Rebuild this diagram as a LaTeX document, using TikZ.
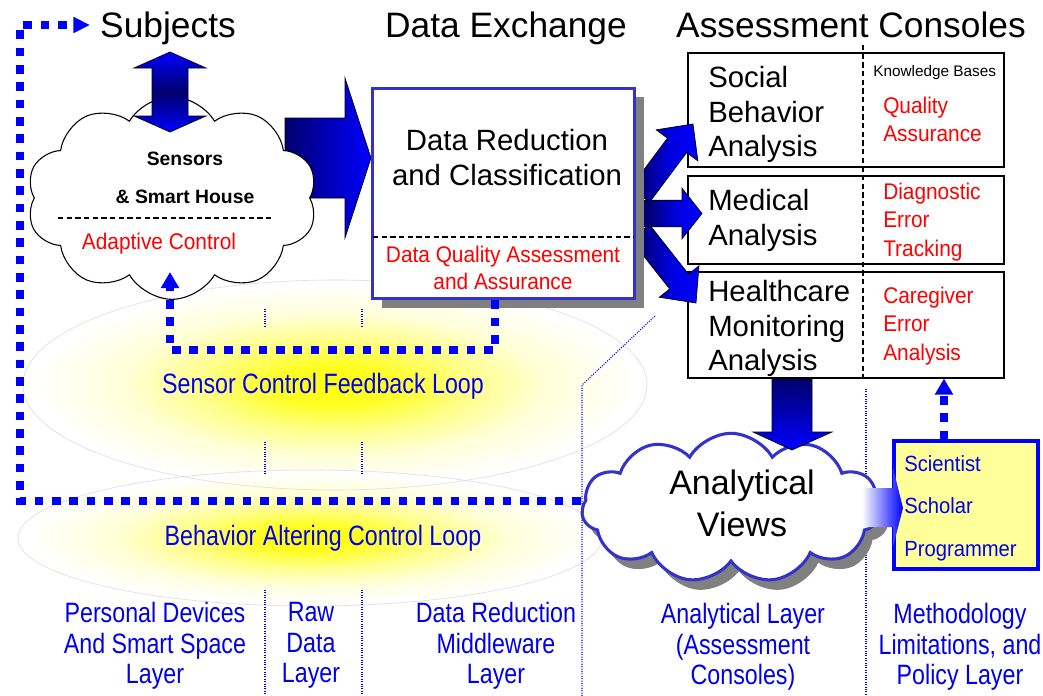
\documentclass[tikz,border=0pt]{standalone}
\usepackage{fontspec}
\setmainfont{Liberation Sans}
\newfontfamily\narrowA{Liberation Sans}[FakeStretch=0.83]
\newfontfamily\narrowB{Liberation Sans}[FakeStretch=0.92]
\usetikzlibrary{shapes.symbols,shadows,calc,arrows.meta}
\definecolor{boxblue}{RGB}{51,51,204}
\definecolor{navyd}{RGB}{0,0,110}
\definecolor{labelblue}{RGB}{0,0,235}
\definecolor{shadowgray}{RGB}{128,128,128}
\definecolor{lightyellow}{RGB}{255,255,153}
\pgfdeclareradialshading{glow}{\pgfpoint{0bp}{0bp}}{color(0bp)=(yellow); color(5bp)=(yellow!85!white); color(11bp)=(yellow!45!white); color(17bp)=(yellow!15!white); color(24bp)=(white); color(50bp)=(white)}
\pgfdeclarehorizontalshading{fanshade}{100bp}{color(0bp)=(navyd); color(30bp)=(navyd); color(55bp)=(blue!80!navyd); color(75bp)=(blue); color(100bp)=(blue)}
\newcommand\fatarrow[6]{%
  \coordinate (fa) at #1; \coordinate (fb) at #2;
  \coordinate (fh) at ($(fb)!#5!(fa)$);
  \draw[#6] ($(fa)!#3!90:(fb)$) -- ($(fh)!#3!90:(fb)$) -- ($(fh)!#4!90:(fb)$) -- (fb)
    -- ($(fh)!#4!-90:(fb)$) -- ($(fh)!#3!-90:(fb)$) -- ($(fa)!#3!-90:(fb)$) -- cycle;}
\tikzset{
 headtxt/.style={font=\fontsize{26.5pt}{30pt}\selectfont, inner sep=0pt, anchor=base},
 bigtxt/.style={font=\fontsize{22pt}{26pt}\selectfont, inner sep=0pt, align=left, anchor=north west},
 redtxt/.style={text=red, font=\narrowB\fontsize{17pt}{21.2pt}\selectfont, inner sep=0pt, align=left, anchor=north west},
 layertxt/.style={text=labelblue, font=\narrowA\fontsize{21pt}{23pt}\selectfont, inner sep=0pt, align=center, anchor=north},
 loopline/.style={draw=blue, line width=6.5pt, dash pattern=on 6.5pt off 6.5pt},
 sepline/.style={draw=blue, line width=0.8pt, densely dotted},
 fat/.style={draw=black, line width=0.5pt, left color=navyd, right color=blue},
 fan/.style={draw=black, line width=0.5pt, shade, shading=fanshade},
 halfdash/.style={draw=black, line width=1.1pt, dash pattern=on 4pt off 2.5pt},
 console/.style={draw=black, line width=0.8pt, fill=white, minimum width=237pt, inner sep=0pt},
 glowfill/.style={shade, shading=glow},
 glowrim/.style={draw=gray!25, line width=0.5pt},
}
\begin{document}
\begin{tikzpicture}[x=0.75pt,y=-0.75pt]
\useasboundingbox (0,0) rectangle (1043,696);
\fill[white] (0,0) rectangle (1043,696);

% glowing loop ellipses
\begin{scope}[transform canvas={shift={(335,385)}, yscale=0.3365}]
  \path[glowfill] (0,0) circle [radius=234pt];
\end{scope}
\begin{scope}[transform canvas={shift={(310,538)}, yscale=0.233}]
  \path[glowfill] (0,0) circle [radius=219pt];
\end{scope}
\path[glowrim] (335,385) ellipse [x radius=234pt, y radius=78.75pt];
\path[glowrim] (310,538) ellipse [x radius=219pt, y radius=51pt];

% layer separators
\draw[sepline] (265,309) -- (265,326);
\draw[sepline] (265,442) -- (265,475);
\draw[sepline] (265,590) -- (265,696);
\draw[sepline] (362,309) -- (362,326);
\draw[sepline] (362,442) -- (362,475);
\draw[sepline] (362,590) -- (362,696);
\draw[sepline] (655,316) -- (582,385) -- (582,696);
\draw[sepline] (866,389) -- (866,696);

% titles
\node[headtxt] (subj) at (168,37) {Subjects};
\node[headtxt] (dex) at (506,37) {Data Exchange};
\node[headtxt] (acon) at (851,37) {Assessment Consoles};

% big arrow cloud -> data box
\draw[fat] (285,118) -- (345,118) -- (345,78) -- (371,158) -- (345,238) -- (345,198) -- (285,198) -- cycle;

% sensors cloud
\node[cloud, draw=black, fill=white, line width=0.8pt, cloud puffs=10, cloud puff arc=120, aspect=1.43,
      minimum width=218pt, minimum height=152pt, inner sep=0pt] (sensors) at (172,198) {};
\draw[draw=black, line width=0.5pt, top color=blue, bottom color=blue, middle color=navyd]
  (170,52) -- (206,68) -- (188,68) -- (188,116) -- (206,116) -- (170,132) -- (134,116) -- (152,116) -- (152,68) -- (134,68) -- cycle;
\node[font=\bfseries\fontsize{14.5pt}{28pt}\selectfont, align=center, anchor=north, inner sep=0pt] (senstxt) at (185,152) {Sensors\\\& Smart House};
\draw[halfdash] (58,218) -- (272,218);
\node[redtxt, anchor=north] (adapt) at (159,233) {Adaptive Control};

% consoles
\node[console, minimum height=85.5pt] (cbox1) at (846,110) {};
\node[console, minimum height=66pt] (cbox2) at (846,220) {};
\node[console, minimum height=79.5pt] (cbox3) at (846,325) {};
\draw[halfdash] (863,45) -- (863,378);
\node[bigtxt] (soc) at (708,66) {Social\\Behavior\\Analysis};
\node[bigtxt] (med) at (708,189) {Medical\\Analysis};
\node[bigtxt] (hc) at (708,280) {Healthcare\\Monitoring\\Analysis};
\node[font=\fontsize{11.5pt}{13pt}\selectfont, anchor=north west, inner sep=0pt] (kb) at (873,65) {Knowledge Bases};
\node[redtxt] (qa) at (883,97) {Quality\\Assurance};
\node[redtxt] (det) at (883,183) {Diagnostic\\Error\\Tracking};
\node[redtxt] (cea) at (883,287) {Caregiver\\Error\\Analysis};

% fan arrows
\fatarrow{(640,195)}{(693,124)}{9pt}{19.5pt}{20pt}{fan}
\fatarrow{(640,213.5)}{(702,213.5)}{10pt}{19pt}{15pt}{fan}
\fatarrow{(640,232)}{(696,303)}{9pt}{19pt}{20.5pt}{fan}

% data box
\node[draw=boxblue, line width=2.3pt, fill=white, minimum width=197pt, minimum height=158pt, inner sep=0pt,
      drop shadow={shadow xshift=7pt, shadow yshift=-6.5pt, fill=shadowgray, opacity=1}] (dbox) at (503.5,193.5) {};
\draw[halfdash] (373,237) -- (634,237);
\node[bigtxt, align=center, anchor=north, font=\fontsize{22pt}{26.25pt}\selectfont] (drtxt) at (507,129) {Data Reduction\\and Classification};
\node[redtxt, align=center, anchor=north, font=\narrowB\fontsize{17pt}{20.25pt}\selectfont] (dqtxt) at (503,246) {Data Quality Assessment\\and Assurance};

% analytical views cloud
\node[cloud, draw=boxblue, line width=2.3pt, fill=white, cloud puffs=11, cloud puff arc=120, aspect=2,
      minimum width=224pt, minimum height=112pt, inner sep=0pt,
      drop shadow={shadow xshift=6pt, shadow yshift=-7.5pt, fill=shadowgray, opacity=1}] (views) at (731,508) {};
\node[font=\fontsize{25.5pt}{31.5pt}\selectfont, align=center, anchor=north, inner sep=0pt] (vtxt) at (742,470) {Analytical\\Views};
\draw[draw=black, line width=0.5pt, top color=navyd, bottom color=blue]
  (772,379) -- (812,379) -- (812,432) -- (832,432) -- (792,450) -- (753,432) -- (772,432) -- cycle;

% people box
\node[draw=blue, line width=2.6pt, fill=lightyellow, minimum width=108pt, minimum height=96pt, inner sep=0pt] (ybox) at (966,505) {};
\path[left color=white, right color=blue] (862,488) -- (893,488) -- (893,468) -- (903,508) -- (893,547) -- (893,527) -- (862,527) -- cycle;
\node[redtxt, text=labelblue, font=\narrowB\fontsize{16.5pt}{32pt}\selectfont] (sci) at (904,455) {Scientist\\Scholar\\Programmer};

% loop labels and layer labels
\node[layertxt] (scfl) at (323,373) {Sensor Control Feedback Loop};
\node[layertxt] (bacl) at (323,525) {Behavior Altering Control Loop};
\node[layertxt] (l1) at (155,602) {Personal Devices\\And Smart Space\\Layer};
\node[layertxt] (l2) at (311,602) {Raw\\Data\\Layer};
\node[layertxt] (l3) at (496,602) {Data Reduction\\Middleware\\Layer};
\node[layertxt] (l4) at (743,603) {Analytical Layer\\(Assessment\\Consoles)};
\node[layertxt] (l5) at (960,603) {Methodology\\Limitations, and\\Policy Layer};

% dotted loops
\coordinate (fbk) at (495,350);
\coordinate (fbc) at (170,272);
\draw[loopline, -{Triangle[length=12pt,width=13pt]}] (dbox.south -| fbk) -- (fbk) -- (fbk -| fbc) -- (fbc);
\coordinate (bl) at (20,501);
\coordinate (tl) at (20,25);
\draw[loopline, -{Triangle[length=12.5pt,width=11.5pt]}] (views.west |- bl) -- (bl) -- (tl) -- ([xshift=-7.5pt]subj.west |- tl);
\coordinate (sx) at (944,0);
\draw[loopline, -{Triangle[length=12pt,width=13pt]}] (ybox.north -| sx) -- (cbox3.south -| sx);
\end{tikzpicture}
\end{document}
